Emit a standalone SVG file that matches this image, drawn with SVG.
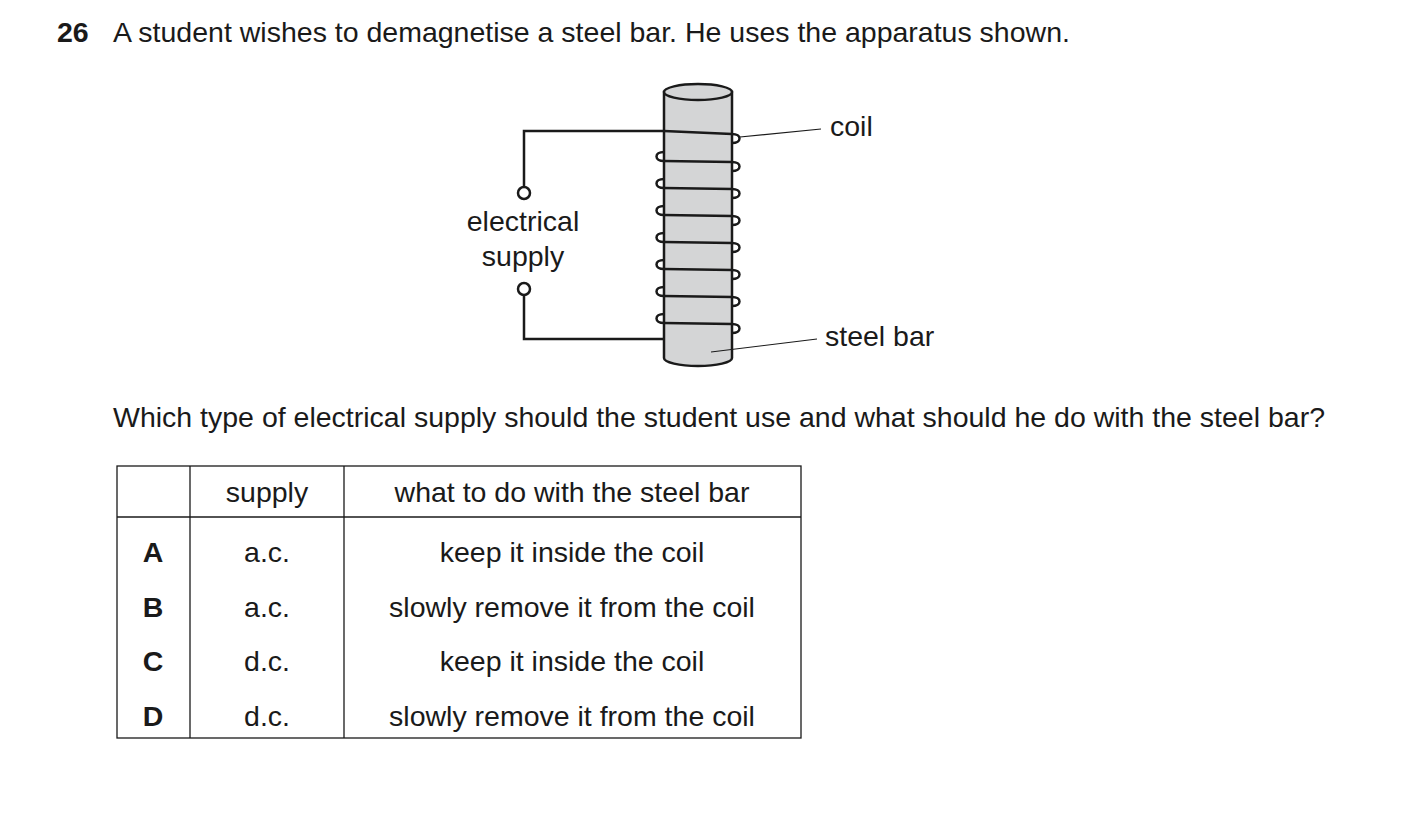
<svg xmlns="http://www.w3.org/2000/svg" width="1403" height="831" viewBox="0 0 1403 831">
<style>
text{font-family:"Liberation Sans",Arial,sans-serif;font-size:28.5px;fill:#1a1a1a}
.c{text-anchor:middle}
.w{fill:none;stroke:#1a1a1a;stroke-width:2.5}
.t{fill:none;stroke:#1a1a1a;stroke-width:1.3}
.thin{stroke:#1a1a1a;stroke-width:1.2}
</style>
<rect width="1403" height="831" fill="#fff"/>
<text x="57" y="42" font-weight="bold">26</text>
<text x="113" y="42">A student wishes to demagnetise a steel bar. He uses the apparatus shown.</text>
<g id="bar">
<path d="M664,92 L664,358 A34,8 0 0 0 732,358 L732,92 Z" fill="#d4d5d6" stroke="#1a1a1a" stroke-width="2.5"/>
<ellipse cx="698" cy="92" rx="34" ry="8" fill="#d4d5d6" stroke="#1a1a1a" stroke-width="2.5"/>
</g>
<g id="circuit">
<path class="w" d="M664,131 H524 V187"/>
<circle cx="524" cy="193" r="6" class="w" fill="#fff"/>
<circle cx="524" cy="289" r="6" class="w" fill="#fff"/>
<path class="w" d="M524,295 V339 H664"/>
</g>
<g id="coil">
<path class="w" d="M664,131 L732,134 C742,134 742,143 732,143"/>
<path class="w" d="M664,152 C654,152 654,161 664,161 L732,162 C742,162 742,171 732,171"/>
<path class="w" d="M664,179 C654,179 654,188 664,188 L732,189 C742,189 742,198 732,198"/>
<path class="w" d="M664,206 C654,206 654,215 664,215 L732,216 C742,216 742,225 732,225"/>
<path class="w" d="M664,233 C654,233 654,242 664,242 L732,243 C742,243 742,252 732,252"/>
<path class="w" d="M664,260 C654,260 654,269 664,269 L732,270 C742,270 742,279 732,279"/>
<path class="w" d="M664,287 C654,287 654,296 664,296 L732,297 C742,297 742,306 732,306"/>
<path class="w" d="M664,314 C654,314 654,323 664,323 L732,324 C742,324 742,333 732,333"/>
</g>
<g id="labels">
<line class="thin" x1="740" y1="137" x2="821" y2="129"/>
<text x="830" y="136">coil</text>
<line class="thin" x1="711" y1="352" x2="817" y2="339"/>
<text x="825" y="346">steel bar</text>
<text class="c" x="523" y="231">electrical</text>
<text class="c" x="523" y="266">supply</text>
</g>
<text x="113" y="427">Which type of electrical supply should the student use and what should he do with the steel bar?</text>
<g id="table">
<rect x="117" y="466" width="684" height="272" class="t"/>
<line class="t" x1="190" y1="466" x2="190" y2="738"/>
<line class="t" x1="344" y1="466" x2="344" y2="738"/>
<line class="t" x1="117" y1="517" x2="801" y2="517"/>
<text class="c" x="267" y="502">supply</text>
<text class="c" x="572" y="502">what to do with the steel bar</text>
<text class="c" x="153" y="562" font-weight="bold">A</text>
<text class="c" x="267" y="562">a.c.</text>
<text class="c" x="572" y="562">keep it inside the coil</text>
<text class="c" x="153" y="617" font-weight="bold">B</text>
<text class="c" x="267" y="617">a.c.</text>
<text class="c" x="572" y="617">slowly remove it from the coil</text>
<text class="c" x="153" y="671" font-weight="bold">C</text>
<text class="c" x="267" y="671">d.c.</text>
<text class="c" x="572" y="671">keep it inside the coil</text>
<text class="c" x="153" y="726" font-weight="bold">D</text>
<text class="c" x="267" y="726">d.c.</text>
<text class="c" x="572" y="726">slowly remove it from the coil</text>
</g>
</svg>
